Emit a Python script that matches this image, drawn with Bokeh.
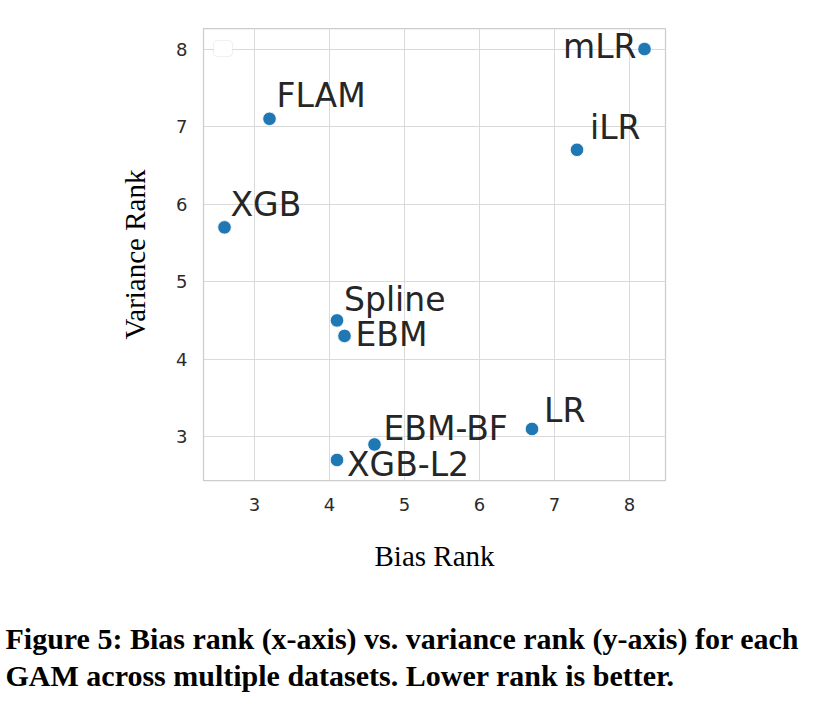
from bokeh.plotting import figure
from bokeh.models import ColumnDataSource, Range1d, FixedTicker, Label, BoxAnnotation
from bokeh.core.properties import value
from bokeh.embed import file_html
from bokeh.resources import INLINE

# ---- data ----
models = ["mLR", "iLR", "FLAM", "XGB", "Spline", "EBM", "EBM-BF", "XGB-L2", "LR"]
bias_rank = [8.2, 7.3, 3.2, 2.6, 4.1, 4.2, 4.6, 4.1, 6.7]
variance_rank = [8.0, 6.7, 7.1, 5.7, 4.5, 4.3, 2.9, 2.7, 3.1]
x_ticks = [3, 4, 5, 6, 7, 8]
y_ticks = [3, 4, 5, 6, 7, 8]

# label placement (pixels relative to the point)
label_dx = [-8, 13, 7, 6, 7, 11, 9, 10, 12]
label_dy = [-3, -22, -23, -23, -21, -1, -16, 5, -18]
label_align = ["right", "left", "left", "left", "left", "left", "left", "left", "left"]

caption1 = "Figure 5: Bias rank (x-axis) vs. variance rank (y-axis) for each"
caption2 = "GAM across multiple datasets. Lower rank is better."

def padded(vals, frac=0.05):
    lo, hi = min(vals), max(vals)
    m = (hi - lo) * frac
    return lo - m, hi + m

x0, x1 = padded(bias_rank)
y0, y1 = padded(variance_rank)

W, H1, H2 = 816, 590, 107
FL, FT, FW, FH = 203, 28, 462, 452

p = figure(width=W, height=H1, output_backend="svg", toolbar_location=None,
           x_range=Range1d(x0, x1), y_range=Range1d(y0, y1),
           min_border_left=FL, min_border_right=W - FL - FW,
           min_border_top=FT, min_border_bottom=H1 - FT - FH)
p.background_fill_color = "white"
p.border_fill_color = "white"
p.outline_line_color = "#cccccc"
p.outline_line_width = 1.25

p.grid.grid_line_color = "#dadada"
p.grid.grid_line_width = 1
p.xaxis.ticker = FixedTicker(ticks=x_ticks)
p.yaxis.ticker = FixedTicker(ticks=y_ticks)

for ax in (p.xaxis[0], p.yaxis[0]):
    ax.axis_line_color = None
    ax.major_tick_line_color = None
    ax.minor_tick_line_color = None
    ax.major_tick_out = 0
    ax.major_tick_in = 0
    ax.minor_tick_out = 0
    ax.minor_tick_in = 0
    ax.major_label_text_font = "DejaVu Sans"
    ax.major_label_text_font_size = "18px"
    ax.major_label_text_color = "#2b2b2b"
    ax.axis_label_text_font = "Liberation Serif"
    ax.axis_label_text_font_size = "29px"
    ax.axis_label_text_font_style = "normal"
    ax.axis_label_text_color = "black"

p.xaxis.axis_label = "Bias Rank"
p.yaxis.axis_label = "Variance Rank"
p.xaxis.major_label_standoff = 17
p.yaxis.major_label_standoff = 16
p.xaxis.axis_label_standoff = 26
p.yaxis.axis_label_standoff = 22

src = ColumnDataSource(dict(x=bias_rank, y=variance_rank, name=models,
                            dx=label_dx, dy=label_dy, align=label_align))

p.scatter("x", "y", source=src, size=13.5, fill_color="#1f77b4",
          line_color="white", line_width=0.8)
p.text("x", "y", text="name", source=src, x_offset="dx", y_offset="dy",
       text_align="align", text_baseline="alphabetic",
       text_font=value("DejaVu Sans"), text_font_size="33px", text_color="#262626")

# empty legend frame (as in the original)
p.add_layout(BoxAnnotation(left=10, right=29, top=FH - 12, bottom=FH - 28,
                           left_units="screen", right_units="screen",
                           top_units="screen", bottom_units="screen",
                           fill_color="white", fill_alpha=1.0,
                           line_color="#cccccc", line_width=1.2,
                           border_radius=4))

# caption panel (a blank figure whose units are pixels), separate root
cap = figure(width=W, height=H2, output_backend="svg", toolbar_location=None,
             x_range=Range1d(0, W), y_range=Range1d(0, H2),
             x_axis_type=None, y_axis_type=None,
             min_border=0, min_border_left=0, min_border_right=0,
             min_border_top=0, min_border_bottom=0)
cap.outline_line_color = None
cap.grid.visible = False
cap.background_fill_color = "white"
cap.border_fill_color = "white"
for txt, ypos in [(caption1, 59), (caption2, 22)]:
    cap.add_layout(Label(x=5, y=ypos, text=txt, text_align="left",
                         text_baseline="middle",
                         text_font="Liberation Serif", text_font_style="bold",
                         text_font_size="30px", text_color="black"))

open("out.html", "w").write(file_html([p, cap], INLINE))
